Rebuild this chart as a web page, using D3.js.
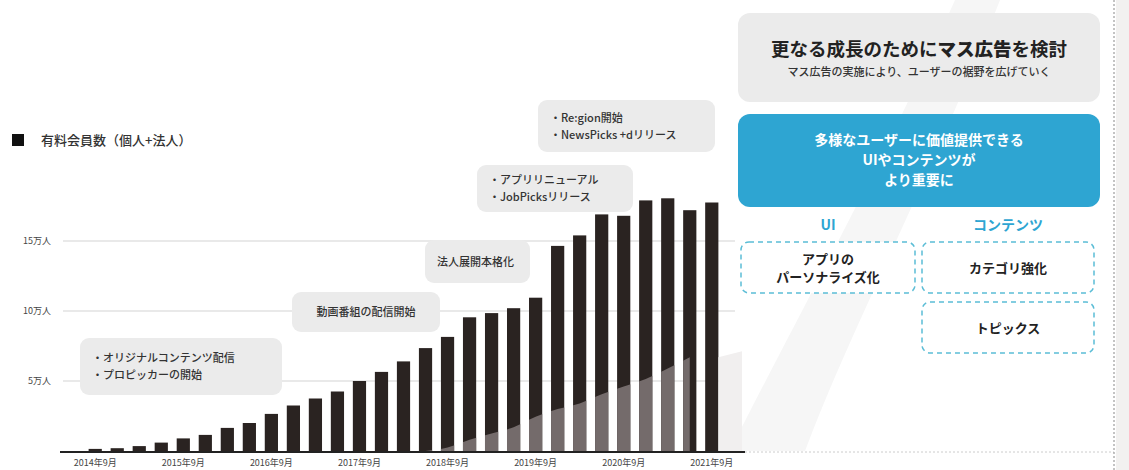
<!DOCTYPE html>
<html>
<head>
<meta charset="utf-8">
<script src="https://cdn.jsdelivr.net/npm/d3@7"></script>
<style>
  body { margin: 0; background: #fff; }
  text { font-family: "Noto Sans CJK JP", "Noto Sans", sans-serif; }
</style>
</head>
<body>
<script>
// data: paid members (individual + corporate), quarterly
var quarters = [
  "2014年9月", "2014年12月", "2015年3月", "2015年6月",
  "2015年9月", "2015年12月", "2016年3月", "2016年6月",
  "2016年9月", "2016年12月", "2017年3月", "2017年6月",
  "2017年9月", "2017年12月", "2018年3月", "2018年6月",
  "2018年9月", "2018年12月", "2019年3月", "2019年6月",
  "2019年9月", "2019年12月", "2020年3月", "2020年6月",
  "2020年9月", "2020年12月", "2021年3月", "2021年6月",
  "2021年9月"
];
var members = [
  1500, 2000, 3500, 6000, 9000, 11500, 16500, 20000,
  26500, 32500, 37500, 42500, 50000, 56500, 64000, 73500,
  81500, 95500, 98500, 102000, 109500, 146500, 154000, 169000,
  168000, 179000, 180500, 172000, 177500
];
// shaded lower part (starts 2018年6月)
var shadeQuarters = quarters.slice(15);
var shade = [0, 2500, 8000, 12500, 17000, 24500, 30000, 34000, 40500, 46000, 51500, 59000, 67000];

var xLabels = ["2014年9月", "2015年9月", "2016年9月", "2017年9月", "2018年9月", "2019年9月", "2020年9月", "2021年9月"];
var yTicks = [50000, 100000, 150000];
var yTickLabels = ["5万人", "10万人", "15万人"];

var notes = [
  { lines: ["・オリジナルコンテンツ配信", "・プロピッカーの開始"], box: [80, 338, 202, 57] },
  { lines: ["動画番組の配信開始"], box: [292, 292, 148, 40], center: true },
  { lines: ["法人展開本格化"], box: [425, 240, 105, 43] },
  { lines: ["・アプリリニューアル", "・JobPicksリリース"], box: [477, 165, 156, 47] },
  { lines: ["・Re:gion開始", "・NewsPicks +dリリース"], box: [538, 100, 177, 52] }
];

// Chart stuff
var width = 1129,
    height = 470;

var svg = d3.select("body").append("svg")
    .attr("width", width)
    .attr("height", height);

var x = d3.scaleBand()
    .domain(quarters)
    .range([79.8, 727.2])
    .padding(0.4);

var y = d3.scaleLinear()
    .domain([0, 150000])
    .range([451, 241]);

// faint background swoosh on the right
svg.append("path")
    .attr("d", "M730,451 C790,330 880,170 955,0 L1000,0 C930,180 850,330 805,451 Z")
    .attr("fill", "#f6f6f6");

// grid lines
svg.append("g").selectAll("line")
    .data(yTicks)
  .enter().append("line")
    .attr("x1", 63).attr("x2", 735)
    .attr("y1", function(d) { return y(d); })
    .attr("y2", function(d) { return y(d); })
    .attr("stroke", "#e2e2e2")
    .attr("stroke-width", 1.5);

svg.append("g").selectAll("text")
    .data(yTicks)
  .enter().append("text")
    .attr("x", 51)
    .attr("y", function(d) { return y(d) + 3; })
    .attr("text-anchor", "end")
    .attr("font-size", 9)
    .attr("fill", "#444")
    .text(function(d, i) { return yTickLabels[i]; });

// annotation boxes
var note = svg.append("g").selectAll("g")
    .data(notes)
  .enter().append("g");

note.append("rect")
    .attr("x", function(d) { return d.box[0]; })
    .attr("y", function(d) { return d.box[1]; })
    .attr("width", function(d) { return d.box[2]; })
    .attr("height", function(d) { return d.box[3]; })
    .attr("rx", 9)
    .attr("fill", "#ebebeb");

note.each(function(d) {
  var g = d3.select(this);
  var n = d.lines.length;
  d.lines.forEach(function(t, i) {
    g.append("text")
      .attr("x", d.center ? d.box[0] + d.box[2] / 2 : d.box[0] + 12)
      .attr("y", d.box[1] + d.box[3] / 2 + (i - (n - 1) / 2) * 17 + 4)
      .attr("text-anchor", d.center ? "middle" : "start")
      .attr("font-size", 11)
      .attr("font-weight", 500)
      .attr("fill", "#333")
      .text(t);
  });
});

// bars
svg.append("defs").append("clipPath").attr("id", "barclip")
  .selectAll("rect")
    .data(members)
  .enter().append("rect")
    .attr("x", function(d, i) { return x(quarters[i]); })
    .attr("y", function(d) { return y(d); })
    .attr("width", x.bandwidth())
    .attr("height", function(d) { return y(0) - y(d); });

svg.append("g").selectAll("rect")
    .data(members)
  .enter().append("rect")
    .attr("x", function(d, i) { return x(quarters[i]); })
    .attr("y", function(d) { return y(d); })
    .attr("width", x.bandwidth())
    .attr("height", function(d) { return y(0) - y(d); })
    .attr("fill", "#2a2321");

// shaded wedge across the later bars
var area = d3.area()
    .x(function(d, i) { return x(shadeQuarters[i]) + x.bandwidth() / 2; })
    .y0(y(0))
    .y1(function(d) { return y(d); })
    .curve(d3.curveMonotoneX);

svg.append("path")
    .datum(shade)
    .attr("d", area)
    .attr("clip-path", "url(#barclip)")
    .attr("fill", "#746b6b");

// faint continuation after the last bar
var last = quarters[quarters.length - 1];
svg.append("path")
    .attr("d", "M" + (x(last) + x.bandwidth()) + "," + y(shade[shade.length - 1]) +
               " L742," + (y(shade[shade.length - 1]) - 6) + " L742," + y(0) +
               " L" + (x(last) + x.bandwidth()) + "," + y(0) + "Z")
    .attr("fill", "#f1efef");

// baseline
svg.append("line")
    .attr("x1", 60).attr("x2", 745)
    .attr("y1", y(0) + 1).attr("y2", y(0) + 1)
    .attr("stroke", "#222")
    .attr("stroke-width", 2);

svg.append("line")
    .attr("x1", 745).attr("x2", 1114)
    .attr("y1", y(0) + 1).attr("y2", y(0) + 1)
    .attr("stroke", "#ccc")
    .attr("stroke-width", 1)
    .attr("stroke-dasharray", "2,2");

// x labels
svg.append("g").selectAll("text")
    .data(xLabels)
  .enter().append("text")
    .attr("x", function(d) { return x(d) + x.bandwidth() / 2; })
    .attr("y", 466)
    .attr("text-anchor", "middle")
    .attr("font-size", 9)
    .attr("fill", "#444")
    .text(function(d) { return d; });

// legend
svg.append("rect")
    .attr("x", 12).attr("y", 134)
    .attr("width", 12).attr("height", 12)
    .attr("fill", "#111");
svg.append("text")
    .attr("x", 41).attr("y", 145)
    .attr("font-size", 13)
    .attr("font-weight", 500)
    .attr("fill", "#333")
    .text("有料会員数（個人+法人）");

// right-hand panel
var panel = svg.append("g");

panel.append("line")
    .attr("x1", 1114).attr("x2", 1114)
    .attr("y1", 0).attr("y2", height)
    .attr("stroke", "#888")
    .attr("stroke-width", 1)
    .attr("stroke-dasharray", "2,2");
panel.append("rect")
    .attr("x", 1116).attr("y", 0)
    .attr("width", 13).attr("height", height)
    .attr("fill", "#f2f1f0");

panel.append("rect")
    .attr("x", 738).attr("y", 13)
    .attr("width", 362).attr("height", 89)
    .attr("rx", 12)
    .attr("fill", "#ebebeb");

var title = panel.append("text")
    .attr("x", 919).attr("y", 56)
    .attr("text-anchor", "middle")
    .attr("font-size", 18.5)
    .attr("font-weight", 700)
    .attr("fill", "#222");
title.append("tspan").text("更なる成長のために");
title.append("tspan").attr("font-weight", 900).text("マス広告");
title.append("tspan").text("を検討");

panel.append("text")
    .attr("x", 919).attr("y", 76)
    .attr("text-anchor", "middle")
    .attr("font-size", 11)
    .attr("font-weight", 500)
    .attr("fill", "#333")
    .text("マス広告の実施により、ユーザーの裾野を広げていく");

panel.append("rect")
    .attr("x", 738).attr("y", 114)
    .attr("width", 362).attr("height", 93)
    .attr("rx", 12)
    .attr("fill", "#2ea5d2");

["多様なユーザーに価値提供できる", "UIやコンテンツが", "より重要に"].forEach(function(t, i) {
  panel.append("text")
    .attr("x", 919).attr("y", 145 + i * 20)
    .attr("text-anchor", "middle")
    .attr("font-size", 14)
    .attr("font-weight", 700)
    .attr("fill", "#fff")
    .text(t);
});

panel.append("text")
    .attr("x", 828).attr("y", 230)
    .attr("text-anchor", "middle")
    .attr("font-size", 14)
    .attr("font-weight", 700)
    .attr("fill", "#2ea5d2")
    .text("UI");
panel.append("text")
    .attr("x", 1008).attr("y", 230)
    .attr("text-anchor", "middle")
    .attr("font-size", 14)
    .attr("font-weight", 700)
    .attr("fill", "#2ea5d2")
    .text("コンテンツ");

var dashed = [
  { box: [741, 242, 174, 51], lines: ["アプリの", "パーソナライズ化"] },
  { box: [922, 242, 172, 51], lines: ["カテゴリ強化"] },
  { box: [922, 302, 172, 51], lines: ["トピックス"] }
];

dashed.forEach(function(d) {
  panel.append("rect")
    .attr("x", d.box[0]).attr("y", d.box[1])
    .attr("width", d.box[2]).attr("height", d.box[3])
    .attr("rx", 8)
    .attr("fill", "#fff")
    .attr("stroke", "#5bbdd6")
    .attr("stroke-width", 1.5)
    .attr("stroke-dasharray", "5,4");
  var n = d.lines.length;
  d.lines.forEach(function(t, i) {
    panel.append("text")
      .attr("x", d.box[0] + d.box[2] / 2)
      .attr("y", d.box[1] + d.box[3] / 2 + (i - (n - 1) / 2) * 18 + 5)
      .attr("text-anchor", "middle")
      .attr("font-size", 13)
      .attr("font-weight", 700)
      .attr("fill", "#222")
      .text(t);
  });
});
</script>
</body>
</html>
